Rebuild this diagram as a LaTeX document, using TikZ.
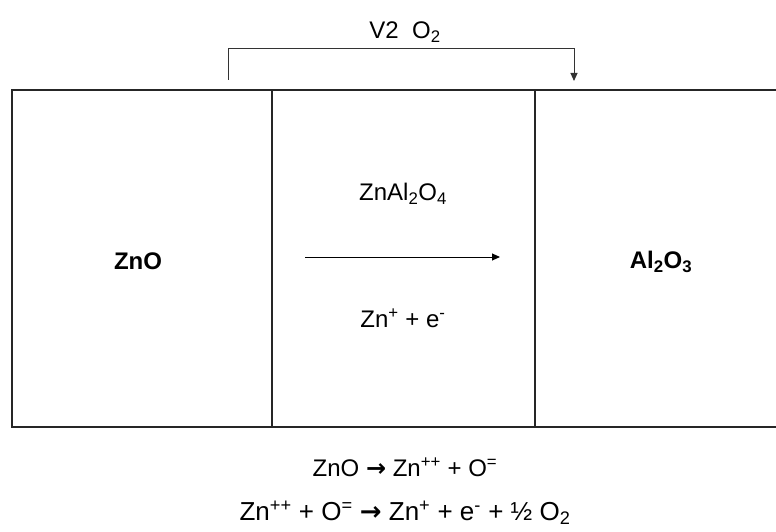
\documentclass[tikz,border=0pt]{standalone}
\usepackage{fontspec}
\setmainfont{Liberation Sans}
\newfontfamily\arrowfont{DejaVu Sans}
\usetikzlibrary{arrows.meta}
\tikzset{
  txt/.style={inner sep=0pt, anchor=center, font=\fontsize{24}{28}\selectfont},
  bigtxt/.style={inner sep=0pt, anchor=center, font=\fontsize{26}{30}\selectfont},
  bold/.style={txt, font=\fontsize{24}{28}\selectfont\bfseries},
  frame/.style={line width=1.3pt, draw=black!85},
  link/.style={line width=1pt, draw=black!80},
  tip/.style={-{Triangle[length=8pt,width=7pt]}}
}
\newcommand{\sps}[1]{\textsuperscript{#1}}
\newcommand{\sbs}[1]{\textsubscript{#1}}
\begin{document}
\begin{tikzpicture}[x=1pt,y=-1pt]
\useasboundingbox (0,0) rectangle (776,532);
\clip (0,0) rectangle (776,532);
% cells
\coordinate (tl) at (12,90);
\coordinate (br) at (800,427);
\draw[frame] (tl) rectangle (br);
\coordinate (d1t) at (272,90); \coordinate (d1b) at (272,427);
\coordinate (d2t) at (535,90); \coordinate (d2b) at (535,427);
\draw[frame] (d1t) -- (d1b);
\draw[frame] (d2t) -- (d2b);
% labels
\node[txt] (v2) at (405,32) {V2\ \ O\sbs{2}};
\node[bold] (zno) at (138,261) {ZnO};
\node[bold] (al) at (661,262) {Al\sbs{2}O\sbs{3}};
\node[txt] (znal) at (403,194) {ZnAl\sbs{2}O\sbs{4}};
\node[txt] (zne) at (403,318) {Zn\sps{+} + e\sps{-}};
% bracket
\coordinate (bs) at (228,80);
\coordinate (be) at (574,81);
\draw[link,tip] (bs) -- (228,49) -- (574,49) -- (be);
% middle arrow
\coordinate (as) at (305,257);
\coordinate (ae) at (500,257);
\draw[line width=1pt, tip] (as) -- (ae);
% equations
\node[txt] (eq1) at (405,467) {ZnO {\arrowfont\bfseries →} Zn\sps{++} + O\sps{=}};
\node[bigtxt] (eq2) at (405,513) {Zn\sps{++} + O\sps{=} {\arrowfont\bfseries →} Zn\sps{+} + e\sps{-} + ½ O\sbs{2}};
\end{tikzpicture}
\end{document}
